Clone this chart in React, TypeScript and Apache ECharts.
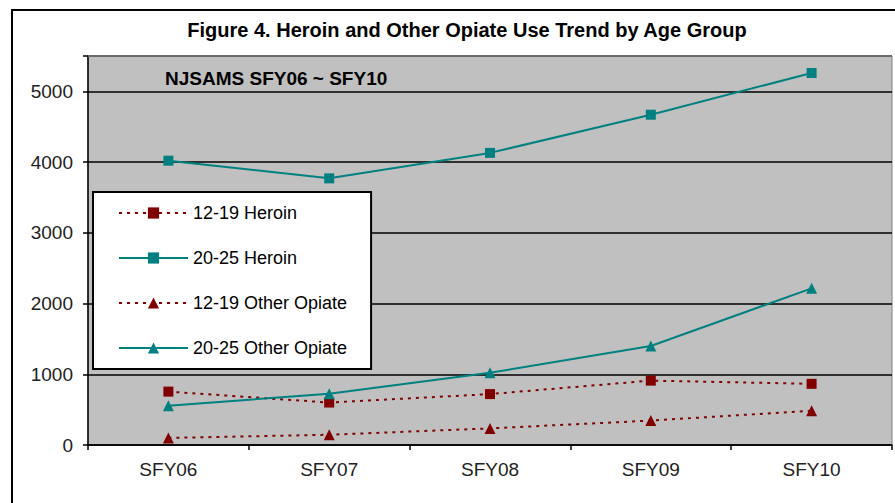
import React, { useEffect, useRef } from "react";
import * as echarts from "echarts";

const categories = ["SFY06", "SFY07", "SFY08", "SFY09", "SFY10"];
const heroin1219 = [755, 600, 720, 910, 865];
const heroin2025 = [4020, 3770, 4130, 4670, 5260];
const opiate1219 = [100, 145, 235, 345, 485];
const opiate2025 = [555, 725, 1020, 1400, 2215];
const yTicks = [0, 1000, 2000, 3000, 4000, 5000];

const TITLE = "Figure 4. Heroin and Other Opiate Use Trend by Age Group";
const SUBTITLE = "NJSAMS SFY06 ~ SFY10";
const FONT = "'Liberation Sans', Arial, sans-serif";
const RED = "#800000";
const TEAL = "#008080";

export default function App() {
  const ref = useRef<HTMLDivElement>(null);
  useEffect(() => {
    if (!ref.current) return;
    const chart = echarts.init(ref.current, undefined, { renderer: "svg" });
    const dotted = { color: RED, width: 2, type: [3, 5] as any };
    const solid = { color: TEAL, width: 2, type: "solid" as any };
    chart.setOption({
      animation: false,
      backgroundColor: "#ffffff",
      textStyle: { fontFamily: FONT },
      grid: {
        left: 88,
        top: 56,
        right: 3,
        bottom: 58,
        show: true,
        backgroundColor: "#c0c0c0",
        borderColor: "#808080",
        borderWidth: 1,
      },
      xAxis: {
        type: "category",
        data: categories,
        boundaryGap: true,
        axisLine: { show: true, lineStyle: { color: "#000", width: 1.5 } },
        axisTick: { show: true, length: 5, lineStyle: { color: "#000", width: 1.5 } },
        axisLabel: { color: "#222", fontSize: 19, fontFamily: FONT, margin: 15 },
        splitLine: { show: false },
      },
      yAxis: {
        type: "value",
        min: 0,
        max: 5500,
        interval: 1000,
        axisLine: { show: true, lineStyle: { color: "#000", width: 1.5 } },
        axisTick: { show: true, length: 5, lineStyle: { color: "#000", width: 1.5 } },
        axisLabel: {
          color: "#222",
          fontSize: 19,
          fontFamily: FONT,
          margin: 15,
          formatter: (v: number) => (yTicks.includes(v) ? String(v) : ""),
        },
        splitLine: { show: true, lineStyle: { color: "#000", width: 1.5 } },
      },
      legend: {
        orient: "vertical",
        left: 93,
        top: 192,
        backgroundColor: "#ffffff",
        borderColor: "#000",
        borderWidth: 2,
        padding: [12, 24, 12, 25],
        itemWidth: 69,
        itemHeight: 14,
        itemGap: 27,
        textStyle: { color: "#000", fontSize: 18, fontFamily: FONT },
        data: ["12-19 Heroin", "20-25 Heroin", "12-19 Other Opiate", "20-25 Other Opiate"],
      },
      graphic: [
        {
          type: "rect",
          z: -10,
          silent: true,
          shape: { x: 12, y: 10, width: 900, height: 510 },
          style: { fill: "none", stroke: "#000", lineWidth: 2 },
        },
        {
          type: "line",
          z: 100,
          silent: true,
          shape: { x1: 88, y1: 56, x2: 892, y2: 56 },
          style: { stroke: "#808080", lineWidth: 1.5 },
        },
        {
          type: "text",
          x: 467,
          y: 30,
          style: {
            text: TITLE,
            fill: "#000",
            fontSize: 20,
            fontWeight: "bold",
            fontFamily: FONT,
            textAlign: "center",
            textVerticalAlign: "middle",
          },
        },
        {
          type: "text",
          x: 165,
          y: 78,
          z: 100,
          style: {
            text: SUBTITLE,
            fill: "#000",
            fontSize: 19,
            fontWeight: "bold",
            fontFamily: FONT,
            textAlign: "left",
            textVerticalAlign: "middle",
          },
        },
      ],
      series: [
        {
          name: "12-19 Heroin",
          type: "line",
          data: heroin1219,
          symbol: "rect",
          symbolSize: 10,
          itemStyle: { color: RED },
          lineStyle: dotted,
          z: 3,
        },
        {
          name: "20-25 Heroin",
          type: "line",
          data: heroin2025,
          symbol: "rect",
          symbolSize: 10,
          itemStyle: { color: TEAL },
          lineStyle: solid,
          z: 4,
        },
        {
          name: "12-19 Other Opiate",
          type: "line",
          data: opiate1219,
          symbol: "triangle",
          symbolSize: 11,
          itemStyle: { color: RED },
          lineStyle: dotted,
          z: 3,
        },
        {
          name: "20-25 Other Opiate",
          type: "line",
          data: opiate2025,
          symbol: "triangle",
          symbolSize: 11,
          itemStyle: { color: TEAL },
          lineStyle: solid,
          z: 4,
        },
      ],
    });
    return () => chart.dispose();
  }, []);
  return (
    <div
      ref={ref}
      style={{ position: "fixed", left: 0, top: 0, width: 895, height: 503 }}
    />
  );
}
